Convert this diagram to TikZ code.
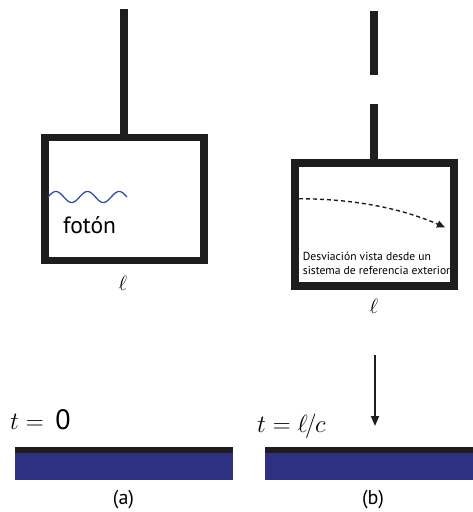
\documentclass[tikz,border=0pt]{standalone}
\usepackage{fontspec}
\setmainfont{PT Sans}
\usetikzlibrary{arrows.meta}
\definecolor{barblue}{RGB}{46,48,130}
\definecolor{wave}{RGB}{50,80,160}
\definecolor{ink}{RGB}{30,30,30}
\begin{document}
\begin{tikzpicture}[x=1pt,y=-1pt,
  frame/.style={draw=ink, line width=7.6pt, inner sep=0pt, minimum width=159pt, minimum height=123pt},
  rope/.style={draw=ink, line width=8pt},
  lbl/.style={inner sep=0pt, font=\fontsize{20}{22}\selectfont},
  small/.style={inner sep=0pt, anchor=base west, font=\fontsize{11.6}{13}\selectfont},
  ell/.style={inner sep=0pt, font=\fontsize{22}{24}\selectfont}]
\useasboundingbox (0,0) rectangle (473,512);
% (a)
\node[frame] (boxa) at (124.2,199) {};
\coordinate (topa) at (124.2,9);
\draw[rope] (topa) -- (boxa.north);
\draw[wave, line width=1.3pt, domain=0:79, samples=120, smooth] plot (48+\x,{197-5.5*sin(\x/31.6*360)});
\node[inner sep=0pt, font=\fontsize{23.5}{25}\selectfont] (foton) at (89.5,225) {fotón};
\node[ell] (la) at (123,283) {$\ell$};
% (b)
\node[frame] (boxb) at (374.4,224.5) {};
\coordinate (topb) at (374.4,11);
\draw[rope, dash pattern=on 64pt off 29pt] (topb) -- (boxb.north);
\coordinate (ds) at (299,198.7);
\coordinate (de) at (445,227.3);
\draw[ink, line width=1.4pt, dash pattern=on 4pt off 3pt, -{Triangle[length=8pt,width=7pt]}] (ds) .. controls (360,199) and (405,210) .. (de);
\begin{scope}
\clip (299,167) rectangle (450,282);
\node[small] (t1) at (302.7,260.7) {Desviación vista desde un};
\node[small] (t2) at (302.7,274.5) {sistema de referencia exterior};
\end{scope}
\node[ell] (lb) at (374,306) {$\ell$};
\coordinate (as) at (375,355);
\coordinate (ae) at (375,426);
\draw[ink, line width=1.5pt, -{Triangle[length=10pt,width=8pt]}] (as) -- (ae);
% bars
\fill[barblue] (15,452.7) rectangle (233.3,480);
\fill[ink] (15,447.3) rectangle (233.3,452.7);
\fill[barblue] (265,452.7) rectangle (473,480);
\fill[ink] (265,447.3) rectangle (473,452.7);
\node[inner sep=0pt, anchor=west, font=\fontsize{28}{30}\selectfont] (ta) at (10,420) {$t ={}$\,0};
\node[inner sep=0pt, anchor=west, font=\fontsize{25}{27}\selectfont] (tb) at (257,426) {$t = \ell\mkern-2mu/\mkern-1mu c$};
\node[lbl] (capa) at (123.5,500) {(a)};
\node[lbl] (capb) at (373,500) {(b)};
\end{tikzpicture}
\end{document}
